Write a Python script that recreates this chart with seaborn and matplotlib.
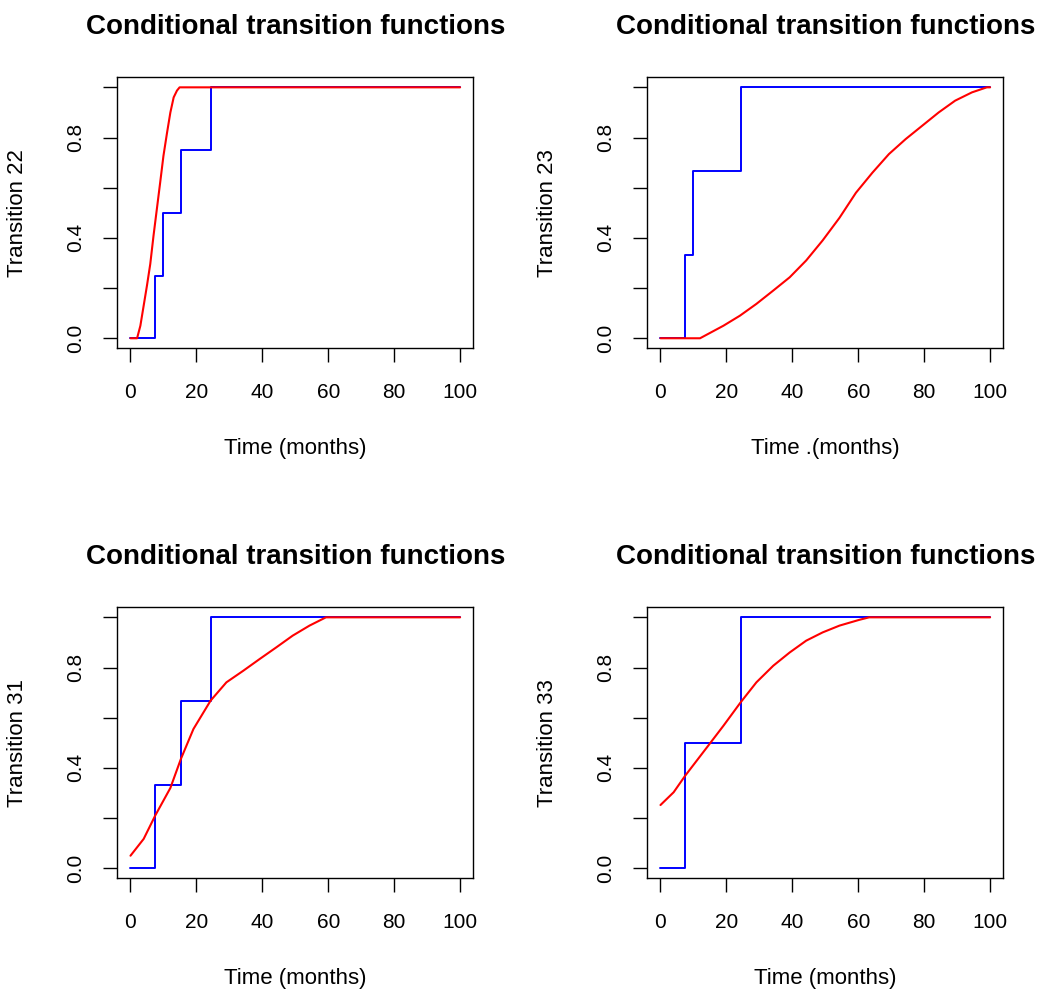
import matplotlib
matplotlib.use("Agg")
import matplotlib.pyplot as plt
import seaborn as sns
import pandas as pd

# ---- data ----
title_text = "Conditional transition functions"
ylabels = ["Transition 22", "Transition 23", "Transition 31", "Transition 33"]
xlabels = ["Time (months)", "Time .(months)", "Time (months)", "Time (months)"]

# blue empirical step functions
step_t_22 = [0, 7.5, 10.0, 15.3, 24.3, 100]
step_v_22 = [0, 0.25, 0.5, 0.75, 1.0, 1.0]
step_t_23 = [0, 7.5, 10.0, 24.3, 100]
step_v_23 = [0, 0.333, 0.667, 1.0, 1.0]
step_t_31 = [0, 7.5, 15.3, 24.3, 100]
step_v_31 = [0, 0.333, 0.667, 1.0, 1.0]
step_t_33 = [0, 7.5, 24.3, 100]
step_v_33 = [0, 0.5, 1.0, 1.0]

# red smooth estimates
curve_t_22 = [0, 2, 3, 4, 5, 6, 7, 8, 9, 10, 11.1, 12.1, 13.1, 14.1, 14.9, 100]
curve_v_22 = [0, 0, 0.05, 0.13, 0.21, 0.296, 0.41, 0.515, 0.62, 0.727, 0.82, 0.9, 0.96, 0.987, 1.0, 1.0]
curve_t_23 = [0, 12, 19.1, 24.1, 29.1, 34.2, 39.2, 44.2, 49.2, 54.3, 59.3, 64.3, 69.3, 74.4, 79.4,
              84.4, 89.4, 94.5, 99, 100]
curve_v_23 = [0, 0, 0.05, 0.09, 0.137, 0.19, 0.243, 0.31, 0.39, 0.48, 0.58, 0.66, 0.734, 0.794, 0.847,
              0.9, 0.947, 0.98, 1.0, 1.0]
curve_t_31 = [0, 4, 7.5, 12.1, 15.3, 19.1, 24.3, 29.1, 34.2, 39.2, 44.2, 49.2, 54.3, 59.3, 100]
curve_v_31 = [0.05, 0.117, 0.21, 0.32, 0.436, 0.555, 0.668, 0.741, 0.787, 0.834, 0.88, 0.927, 0.967, 1.0, 1.0]
curve_t_33 = [0, 4, 7.5, 14.1, 19.1, 24.3, 29.1, 34.2, 39.2, 44.2, 49.2, 54.3, 60.3, 63.3, 100]
curve_v_33 = [0.252, 0.303, 0.369, 0.482, 0.568, 0.661, 0.741, 0.807, 0.86, 0.907, 0.94, 0.967, 0.99, 1.0, 1.0]

xticks = [0, 20, 40, 60, 80, 100]
yticks = [0.0, 0.2, 0.4, 0.6, 0.8, 1.0]
yticklabels = ["0.0", "", "0.4", "", "0.8", ""]

steps = [(step_t_22, step_v_22), (step_t_23, step_v_23), (step_t_31, step_v_31), (step_t_33, step_v_33)]
curves = [(curve_t_22, curve_v_22), (curve_t_23, curve_v_23), (curve_t_31, curve_v_31), (curve_t_33, curve_v_33)]

# ---- style ----
sns.set_theme(style="white")
plt.rcParams["font.family"] = ["Liberation Sans", "DejaVu Sans"]
plt.rcParams["text.color"] = "black"
plt.rcParams["axes.labelcolor"] = "black"
plt.rcParams["xtick.color"] = "black"
plt.rcParams["ytick.color"] = "black"

W, H = 1038, 997
fig = plt.figure(figsize=(W / 100, H / 100), dpi=100)
fig.patch.set_facecolor("white")

# axes boxes in pixels: (left, top, right, bottom)
boxes = [(117.3, 77.3, 473.3, 348.3), (647.3, 77.3, 1003.3, 348.3),
         (117.3, 607.3, 473.3, 878.3), (647.3, 607.3, 1003.3, 878.3)]

for i, (l, t, r, b) in enumerate(boxes):
    ax = fig.add_axes([l / W, 1 - b / H, (r - l) / W, (b - t) / H])
    st, sv = steps[i]
    ct, cv = curves[i]
    df_s = pd.DataFrame({"t": st, "v": sv})
    df_c = pd.DataFrame({"t": ct, "v": cv})
    sns.lineplot(data=df_s, x="t", y="v", ax=ax, color="#0000ff", lw=1.4,
                 drawstyle="steps-post", estimator=None, sort=False)
    sns.lineplot(data=df_c, x="t", y="v", ax=ax, color="#ff0000", lw=1.5,
                 estimator=None, sort=False)
    ax.set_xlim(-4, 104)
    ax.set_ylim(-0.04, 1.04)
    ax.set_xticks(xticks)
    ax.set_xticklabels([str(x) for x in xticks])
    ax.set_yticks(yticks)
    ax.set_yticklabels(yticklabels, rotation=90, va="center")
    ax.tick_params(axis="both", direction="out", length=10, width=1.0,
                   labelsize=15, bottom=True, left=True)
    ax.tick_params(axis="x", pad=15)
    ax.tick_params(axis="y", pad=13)
    for sp in ax.spines.values():
        sp.set_color("black")
        sp.set_linewidth(1.0)
    ax.set_title(title_text, fontsize=20, fontweight="bold", pad=31)
    ax.set_xlabel(xlabels[i], fontsize=16)
    ax.set_ylabel(ylabels[i], fontsize=16)
    ax.xaxis.set_label_coords(0.5, (b - 438) / (b - t) if i < 2 else (b - 968) / (b - t))
    ax.yaxis.set_label_coords((28 - l) / (r - l) if i % 2 == 0 else (558 - l) / (r - l), 0.5)

fig.savefig("out.png", dpi=100, facecolor="white")
